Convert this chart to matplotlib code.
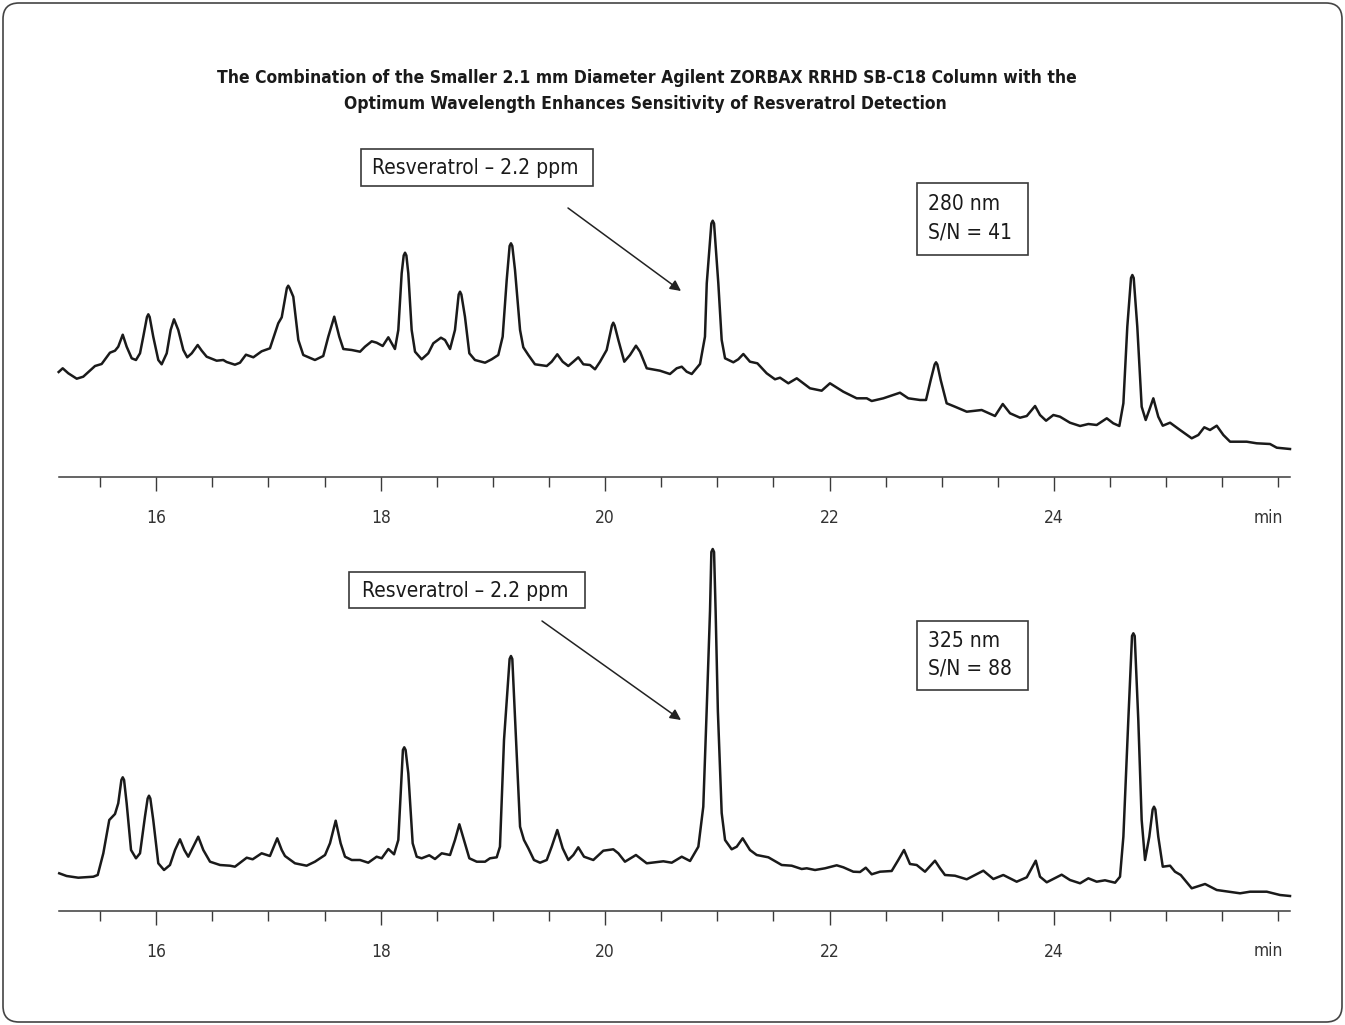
import matplotlib
matplotlib.use("Agg")
import matplotlib.pyplot as plt
import matplotlib.font_manager as fm
from matplotlib.patches import FancyBboxPatch, Rectangle, FancyArrowPatch

# (retention time in min, detector signal in a.u.)
top_trace = [
    (15.13, 105), (15.166, 108.7), (15.216, 103.7), (15.291, 98.3), (15.349, 100.3),
    (15.454, 111), (15.513, 113), (15.587, 124.3), (15.632, 126.3), (15.661, 130.3),
    (15.701, 142.3), (15.736, 130.3), (15.781, 118.7), (15.819, 117), (15.855, 123.7),
    (15.884, 140.3), (15.917, 160), (15.929, 162.7), (15.941, 160), (15.973, 140.3),
    (16.018, 117), (16.048, 112.7), (16.093, 123.7), (16.128, 147), (16.158, 157.7),
    (16.196, 147), (16.241, 127), (16.276, 119.7), (16.316, 123.7), (16.369, 132),
    (16.405, 126.3), (16.449, 120.3), (16.538, 116.3), (16.597, 117), (16.627, 115),
    (16.701, 112.3), (16.746, 114.3), (16.799, 122.3), (16.865, 119.7), (16.939, 125.7),
    (17.013, 128.7), (17.058, 143.7), (17.087, 153.7), (17.118, 159.7), (17.164, 189),
    (17.176, 191.3), (17.188, 189), (17.221, 180.3), (17.266, 137), (17.310, 122),
    (17.414, 117), (17.488, 121), (17.533, 140.3), (17.586, 160.3), (17.631, 140.3),
    (17.667, 128), (17.742, 127), (17.816, 125.3), (17.860, 130.3), (17.920, 135.7),
    (17.964, 134.3), (18.018, 131), (18.068, 139.7), (18.098, 133.7), (18.127, 128),
    (18.157, 147), (18.187, 203.7), (18.205, 221.5), (18.217, 224.3), (18.229, 221.5),
    (18.246, 203.7), (18.276, 147), (18.306, 125.3), (18.365, 117.7), (18.424, 123.7),
    (18.469, 133.7), (18.537, 139.3), (18.573, 137), (18.618, 128), (18.662, 147),
    (18.695, 182.5), (18.707, 185.3), (18.719, 182.5), (18.751, 160.3), (18.790, 123.7),
    (18.840, 117), (18.930, 114.3), (18.989, 117.7), (19.048, 122), (19.087, 140.3),
    (19.123, 197), (19.149, 231), (19.161, 233.7), (19.173, 231), (19.197, 207),
    (19.242, 147), (19.271, 129.7), (19.316, 122), (19.375, 112.7), (19.480, 111),
    (19.524, 115.3), (19.574, 122.7), (19.622, 115.3), (19.672, 111), (19.717, 115.3),
    (19.761, 119.7), (19.806, 112.7), (19.865, 112), (19.910, 107.7), (19.955, 115.3),
    (20.014, 127), (20.061, 151.5), (20.073, 154.3), (20.085, 151.5), (20.118, 137),
    (20.171, 115.3), (20.222, 122), (20.275, 131.3), (20.311, 125.3), (20.371, 108.7),
    (20.489, 106.3), (20.578, 103), (20.638, 108.7), (20.683, 110.3), (20.727, 105.3),
    (20.772, 103), (20.846, 113), (20.890, 140.3), (20.906, 193.7), (20.947, 253.5),
    (20.959, 256.3), (20.971, 253.5), (21.009, 193.7), (21.039, 137), (21.069, 118.7),
    (21.143, 114.7), (21.187, 117.7), (21.232, 123), (21.291, 115.3), (21.357, 113.7),
    (21.440, 103.7), (21.514, 97.7), (21.559, 99.3), (21.633, 93.7), (21.708, 98.7),
    (21.826, 88.7), (21.930, 86.3), (22.004, 93.7), (22.123, 85.3), (22.242, 78.7),
    (22.332, 78.7), (22.376, 76), (22.480, 78.7), (22.628, 84.3), (22.702, 78.7),
    (22.807, 77), (22.860, 77), (22.902, 97), (22.937, 112.5), (22.949, 114.7),
    (22.961, 112.5), (22.991, 97), (23.044, 73.7), (23.118, 70.3), (23.223, 65.3),
    (23.356, 67), (23.475, 61), (23.544, 73), (23.609, 63.7), (23.698, 59.3),
    (23.758, 61), (23.832, 71), (23.876, 62), (23.930, 56.3), (23.995, 62),
    (24.054, 60.3), (24.143, 54.3), (24.233, 51), (24.307, 53), (24.381, 52),
    (24.471, 58.7), (24.529, 53.7), (24.583, 51), (24.619, 73.7), (24.654, 150.3),
    (24.687, 199), (24.699, 202), (24.711, 199), (24.743, 150.3), (24.782, 70.3),
    (24.818, 57), (24.850, 67), (24.886, 78.7), (24.930, 60.3), (24.970, 51.3),
    (25.035, 54.3), (25.124, 47), (25.228, 38.7), (25.287, 42), (25.340, 49.7),
    (25.391, 47), (25.451, 51.3), (25.510, 42), (25.570, 35.3), (25.718, 35.3),
    (25.807, 33.7), (25.926, 33), (25.986, 29.3), (26.104, 28),
]

# (retention time in min, detector signal in a.u.)
bottom_trace = [
    (15.135, 37.7), (15.201, 35), (15.305, 33.3), (15.439, 34.3), (15.478, 36),
    (15.528, 57.7), (15.581, 91), (15.632, 97), (15.661, 107.7), (15.689, 131),
    (15.701, 133.7), (15.713, 131), (15.736, 107.7), (15.775, 61), (15.819, 52.7),
    (15.855, 57.7), (15.899, 94.3), (15.923, 112.5), (15.935, 115.3), (15.947, 112.5),
    (15.973, 91), (16.018, 47.7), (16.069, 41), (16.122, 46), (16.167, 61),
    (16.211, 71.7), (16.250, 61), (16.285, 54.3), (16.330, 64.3), (16.374, 74.3),
    (16.419, 61), (16.479, 49.3), (16.568, 46), (16.657, 45.3), (16.701, 44.3),
    (16.806, 53.3), (16.859, 51.7), (16.939, 57.7), (17.013, 55), (17.078, 72.7),
    (17.118, 61), (17.147, 55), (17.236, 47.7), (17.340, 45.3), (17.414, 49.3),
    (17.504, 56), (17.548, 67.7), (17.599, 90.3), (17.643, 67.7), (17.682, 54.3),
    (17.742, 51), (17.816, 51), (17.889, 48.3), (17.964, 54.3), (18.009, 52.7),
    (18.068, 62), (18.119, 56.7), (18.157, 71), (18.187, 137.7), (18.198, 161),
    (18.210, 163.7), (18.222, 161), (18.246, 137.7), (18.285, 67.7), (18.321, 54.3),
    (18.365, 52.7), (18.433, 55.7), (18.484, 52), (18.544, 57.7), (18.618, 56),
    (18.662, 71), (18.701, 86.7), (18.742, 71), (18.790, 52.7), (18.856, 49.3),
    (18.930, 49.3), (18.974, 52.7), (19.034, 53.7), (19.063, 64.3), (19.099, 171),
    (19.149, 252), (19.161, 255), (19.173, 252), (19.206, 171), (19.242, 84.3),
    (19.277, 71), (19.316, 62.7), (19.366, 51), (19.420, 48.3), (19.480, 51),
    (19.524, 64.3), (19.574, 81), (19.622, 62.7), (19.672, 51), (19.717, 56),
    (19.761, 63.7), (19.812, 54.3), (19.895, 51), (19.984, 60.3), (20.073, 61.7),
    (20.118, 57.7), (20.177, 49.3), (20.275, 56), (20.371, 47.7), (20.519, 49.7),
    (20.594, 48.3), (20.683, 54.3), (20.757, 50), (20.831, 64.3), (20.875, 104.3),
    (20.905, 200), (20.935, 300), (20.947, 359), (20.959, 362), (20.971, 359),
    (20.985, 300), (21.005, 200), (21.039, 98), (21.069, 71), (21.128, 61.7),
    (21.173, 64.3), (21.226, 72.7), (21.291, 61), (21.351, 56), (21.455, 53.7),
    (21.574, 46), (21.663, 45.3), (21.752, 42), (21.797, 42.7), (21.871, 41),
    (21.960, 42.7), (22.064, 45.7), (22.123, 43.7), (22.212, 39.3), (22.272, 39),
    (22.323, 43.3), (22.376, 36.7), (22.450, 39.3), (22.554, 40), (22.613, 51),
    (22.664, 61), (22.717, 47), (22.777, 46), (22.851, 39.3), (22.940, 50.3),
    (22.985, 42.7), (23.029, 36), (23.118, 35.3), (23.223, 31.7), (23.371, 40.3),
    (23.460, 32), (23.549, 36), (23.668, 29.3), (23.758, 33.7), (23.838, 50.3),
    (23.876, 34.3), (23.936, 28.7), (24.069, 36.3), (24.143, 31), (24.233, 27.7),
    (24.307, 32.7), (24.381, 29.3), (24.455, 30.7), (24.545, 28.3), (24.589, 34.3),
    (24.619, 74.3), (24.663, 191), (24.696, 275), (24.708, 277.7), (24.720, 275),
    (24.752, 191), (24.782, 91), (24.812, 51), (24.850, 74.3), (24.880, 101.5),
    (24.892, 104.3), (24.904, 101.5), (24.930, 74.3), (24.970, 44.3), (25.035, 45.3),
    (25.079, 39.3), (25.130, 36), (25.228, 22.7), (25.347, 27), (25.451, 21),
    (25.659, 17.7), (25.748, 19.3), (25.897, 19.3), (26.015, 16), (26.104, 15),
]

major_ticks = [16, 18, 20, 22, 24]
major_labels = ["16", "18", "20", "22", "24"]
minor_ticks = [15.5, 16.5, 17, 17.5, 18.5, 19, 19.5, 20.5, 21, 21.5,
               22.5, 23, 23.5, 24.5, 25, 25.5, 26]

title_lines = ["The Combination of the Smaller 2.1 mm Diameter Agilent ZORBAX RRHD SB-C18 Column with the",
               "Optimum Wavelength Enhances Sensitivity of Resveratrol Detection"]
peak_label = "Resveratrol \u2013 2.2 ppm"
top_info = ["280 nm", "S/N = 41"]
bottom_info = ["325 nm", "S/N = 88"]

W, H = 1345, 1025
INK = "#1a1a1a"
GREY = "#3a3a3a"

# pick the narrowest sans that is installed (the original uses a condensed face)
installed = {(f.name, f.stretch) for f in fm.fontManager.ttflist}
names = {n for n, s in installed}
if "Liberation Sans Narrow" in names:
    FAMILY, STRETCH = "Liberation Sans Narrow", "normal"
elif any(n == "DejaVu Sans" and "condensed" in str(s) for n, s in installed):
    FAMILY, STRETCH = "DejaVu Sans", "condensed"
elif "DejaVu Sans Condensed" in names:
    FAMILY, STRETCH = "DejaVu Sans Condensed", "normal"
elif "Roboto Condensed" in names:
    FAMILY, STRETCH = "Roboto Condensed", "normal"
else:
    FAMILY, STRETCH = "Roboto", "normal"
plt.rcParams['font.family'] = [FAMILY, 'DejaVu Sans']
plt.rcParams['font.stretch'] = STRETCH


def fx(px):
    return px / W


def fy(py):
    return 1 - py / H


fig = plt.figure(figsize=(W / 100, H / 100), dpi=100)


def chromatogram(top_px, axis_px, trace):
    time, signal = zip(*trace)
    ax = fig.add_axes([fx(59), fy(axis_px), fx(1290) - fx(59), (axis_px - top_px) / H])
    ax.plot(time, signal, color=INK, lw=1.8, solid_joinstyle='round', clip_on=False)
    ax.set_xlim(15.133, 26.104)
    ax.set_ylim(0, axis_px - top_px)
    ax.patch.set_visible(False)
    for side in ["top", "left", "right"]:
        ax.spines[side].set_visible(False)
    ax.spines["bottom"].set_color(GREY)
    ax.spines["bottom"].set_linewidth(1.1)
    ax.set_yticks([])
    ax.set_xticks(major_ticks, labels=major_labels)
    ax.set_xticks(minor_ticks, minor=True)
    ax.tick_params(axis="x", which="major", length=10, width=1.0, color=GREY,
                   labelsize=12.5, labelcolor="#333333", pad=13)
    ax.tick_params(axis="x", which="minor", length=7.5, width=1.0, color=GREY)
    return ax


chromatogram(200, 477, top_trace)
chromatogram(540, 911, bottom_trace)

fig.text(fx(1268), fy(518), "min", ha="center", va="center", fontsize=12.5, color="#333333")
fig.text(fx(1268), fy(951), "min", ha="center", va="center", fontsize=12.5, color="#333333")

# title
fig.text(fx(647), fy(78), title_lines[0], ha="center", va="center",
         fontsize=12.5, fontweight="bold", color=INK)
fig.text(fx(645), fy(104), title_lines[1], ha="center", va="center",
         fontsize=12.5, fontweight="bold", color=INK)


def box(x0, y0, x1, y1):
    fig.add_artist(Rectangle((fx(x0), fy(y1)), fx(x1) - fx(x0), (y1 - y0) / H,
                             transform=fig.transFigure, fill=False, lw=1.2, ec=GREY))


# peak callouts
box(361, 149, 593, 186)
fig.text(fx(475), fy(168), peak_label, ha="center", va="center", fontsize=15, color=INK)
box(349, 572, 585, 608)
fig.text(fx(465), fy(591), peak_label, ha="center", va="center", fontsize=15, color=INK)

for (x0, y0), (x1, y1) in [((568, 208), (681, 291)), ((542, 621), (681, 720))]:
    fig.add_artist(FancyArrowPatch((fx(x0), fy(y0)), (fx(x1), fy(y1)),
                                   transform=fig.transFigure, arrowstyle="-|>",
                                   mutation_scale=16, lw=1.1, color="#222222",
                                   shrinkA=0, shrinkB=0))

# wavelength / signal-to-noise boxes
box(917, 183, 1028, 255)
fig.text(fx(928), fy(204), top_info[0], ha="left", va="center", fontsize=15, color=INK)
fig.text(fx(928), fy(233), top_info[1], ha="left", va="center", fontsize=15, color=INK)
box(917, 621, 1028, 690)
fig.text(fx(928), fy(641), bottom_info[0], ha="left", va="center", fontsize=15, color=INK)
fig.text(fx(928), fy(669), bottom_info[1], ha="left", va="center", fontsize=15, color=INK)

# rounded frame round the whole figure
fig.add_artist(FancyBboxPatch((0.03, 0.03), W / 100 - 0.06, H / 100 - 0.06,
                              boxstyle="round,pad=0,rounding_size=0.16",
                              transform=fig.dpi_scale_trans, fill=False,
                              lw=1.2, ec="#444444"))

fig.savefig("out.png", dpi=100)
